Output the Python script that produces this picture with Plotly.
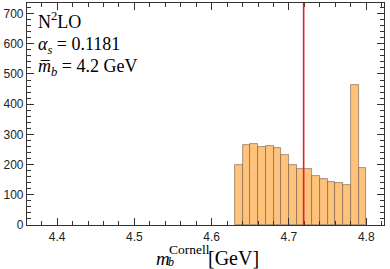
import plotly.graph_objects as go

bin_left = [4.63, 4.64, 4.65, 4.66, 4.67, 4.68, 4.69, 4.70, 4.71,
            4.72, 4.73, 4.74, 4.75, 4.76, 4.77, 4.78, 4.79]
bin_width = 0.01
counts = [200, 266, 267, 257, 262, 254, 233, 199, 185,
          187, 163, 151, 141, 139, 132, 465, 189]
central_value = 4.719

x_range = [4.361, 4.823]
y_range = [0, 735]

centers = [b + bin_width / 2 for b in bin_left]

fig = go.Figure()
fig.add_trace(go.Bar(
    x=centers, y=counts, width=[bin_width] * len(counts),
    marker=dict(color="rgb(255,194,122)",
                line=dict(color="rgba(110,90,70,0.75)", width=0.8)),
    showlegend=False, hoverinfo="skip"))

fig.add_shape(type="line", xref="x", yref="paper",
              x0=central_value, x1=central_value, y0=0, y1=1,
              line=dict(color="rgb(230,30,40)", width=1.6), layer="above")

frame = "#333333"
tickfont = dict(family="Liberation Sans, Arial", size=12, color="#222222")
fig.update_xaxes(range=x_range, showgrid=False, zeroline=False,
                 showline=True, linecolor=frame, linewidth=1.2, mirror="allticks",
                 ticks="inside", ticklen=7, tickwidth=1, tickcolor=frame,
                 tick0=4.4, dtick=0.1, tickformat=".1f", tickfont=tickfont,
                 minor=dict(ticks="inside", ticklen=4, tickwidth=1, tickcolor=frame,
                            dtick=0.02, tick0=4.4, showgrid=False))
fig.update_yaxes(range=y_range, showgrid=False, zeroline=False,
                 showline=True, linecolor=frame, linewidth=1.2, mirror="allticks",
                 ticks="inside", ticklen=7, tickwidth=1, tickcolor=frame,
                 tick0=0, dtick=100, tickfont=tickfont,
                 minor=dict(ticks="inside", ticklen=4, tickwidth=1, tickcolor=frame,
                            dtick=20, tick0=0, showgrid=False))

serif = "Liberation Serif, Times New Roman, serif"
txt = dict(family=serif, size=18, color="black")
fig.add_annotation(xref="paper", yref="paper", x=0.025, y=0.98, xanchor="left", yanchor="top",
                   showarrow=False, align="left", font=txt,
                   text="N<sup>2</sup>LO")
fig.add_annotation(xref="paper", yref="paper", x=0.025, y=0.87, xanchor="left", yanchor="top",
                   showarrow=False, align="left", font=txt,
                   text="<i>α<sub>s</sub></i> = 0.1181")
fig.add_annotation(xref="paper", yref="paper", x=0.025, y=0.77, xanchor="left", yanchor="top",
                   showarrow=False, align="left", font=txt,
                   text="<i>m̅<sub>b</sub></i> = 4.2 GeV")

# x-axis title pieces (stacked super/subscript)
fig.add_annotation(xref="paper", yref="paper", x=0.355, y=-0.15, xanchor="left", yanchor="middle",
                   showarrow=False, font=dict(family=serif, size=19, color="black"),
                   text="<i>m</i>")
fig.add_annotation(xref="paper", yref="paper", x=0.391, y=-0.168, xanchor="left", yanchor="middle",
                   showarrow=False, font=dict(family=serif, size=12, color="black"),
                   borderpad=0, text="<i>b</i>")
fig.add_annotation(xref="paper", yref="paper", x=0.391, y=-0.11, xanchor="left", yanchor="middle",
                   showarrow=False, font=dict(family=serif, size=13.5, color="black"),
                   text="Cornell")
fig.add_annotation(xref="paper", yref="paper", x=0.5, y=-0.148, xanchor="left", yanchor="middle",
                   showarrow=False, font=dict(family=serif, size=20, color="black"),
                   text="[GeV]")

fig.update_layout(width=390, height=269, margin=dict(l=27, r=6, t=3, b=44),
                  paper_bgcolor="white", plot_bgcolor="white", bargap=0)
fig.write_html("out.html", config={"displayModeBar": False},
               post_script="document.body.style.margin='0';")
